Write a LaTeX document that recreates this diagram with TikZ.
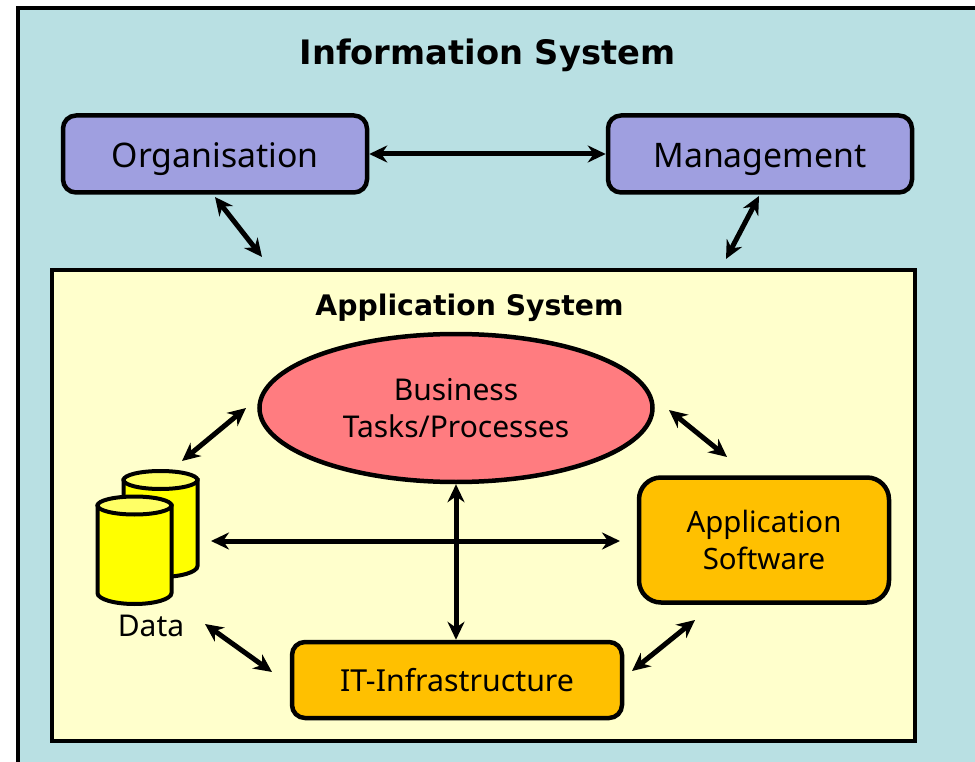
\documentclass[tikz,border=0pt]{standalone}
\usepackage{fontspec}
\setmainfont{Noto Sans}
\newfontfamily\boldf{DejaVu Sans}
\usetikzlibrary{arrows.meta,shapes.geometric}
\tikzset{
  x=1pt,y=-1pt,
  box/.style={draw=black,line width=4.5pt,rounded corners=13pt,inner sep=0pt,align=center},
  purple/.style={box,fill=boxpurple,minimum width=304pt,minimum height=77pt,text height=28pt,text depth=0pt,font=\fontsize{33.8}{40}\selectfont},
  orange/.style={box,fill=boxorange,font=\fontsize{30}{37}\selectfont},
  lnk/.style={line width=5pt,{Stealth[length=18pt,width=17pt]}-{Stealth[length=18pt,width=17pt]}},
  cyl/.style={draw=black,line width=4pt,fill=cylbody},
  cyltop/.style={draw=black,line width=4pt,fill=cyltopc},
  lbl/.style={font=\fontsize{30}{37}\selectfont,inner sep=0pt,align=center},
  title/.style={inner sep=0pt,anchor=base}
}
\definecolor{outerbg}{HTML}{B9E0E3}
\definecolor{innerbg}{HTML}{FFFFCC}
\definecolor{boxpurple}{HTML}{9F9FE0}
\definecolor{boxorange}{HTML}{FFC000}
\definecolor{ellred}{HTML}{FF7C80}
\definecolor{cylbody}{HTML}{FFFF00}
\definecolor{cyltopc}{HTML}{FFFF66}
\begin{document}
\begin{tikzpicture}
\useasboundingbox (0,0) rectangle (975,762);
\clip (0,0) rectangle (975,762);
\fill[white] (0,0) rectangle (975,762);
\draw[black,line width=4pt,fill=outerbg] (18,8) rectangle (985,775);
\node[title,font=\boldf\bfseries\fontsize{33.7}{40}\selectfont] (t1) at (487.5,65) {Information System};
\node[purple] (org) at (215,154) {Organisation};
\node[purple] (mgt) at (760,154) {Management};
\draw[black,line width=4pt,fill=innerbg] (52,270) rectangle (915,741);
\node[title,font=\boldf\bfseries\fontsize{28.3}{34}\selectfont] (t2) at (469.5,315) {Application System};
\node[ellipse,draw=black,line width=4.5pt,fill=ellred,minimum width=393pt,minimum height=148pt,inner sep=0pt,lbl] (biz) at (456,408) {Business\\Tasks/Processes};
\node[orange,font=\fontsize{29.4}{37}\selectfont,minimum width=250pt,minimum height=125pt,rounded corners=22pt] (app) at (764,540) {Application\\Software};
\node[orange,font=\fontsize{30.3}{37}\selectfont,minimum width=330pt,minimum height=76pt] (inf) at (457,680) {IT-Infrastructure};
% cylinders
\draw[cyl] (123.5,480) -- (123.5,566) arc[start angle=180,end angle=0,x radius=37,y radius=11] -- (197.5,480) -- cycle;
\draw[cyltop] (160.5,480) ellipse[x radius=37,y radius=9];
\draw[cyl] (97.5,505.5) -- (97.5,593) arc[start angle=180,end angle=0,x radius=37,y radius=11] -- (171.5,505.5) -- cycle;
\draw[cyltop] (134.5,505.5) ellipse[x radius=37,y radius=9];
\node[lbl] (data) at (151,626) {Data};
\coordinate (a1) at (215,197); \coordinate (a2) at (262,257);
\coordinate (b1) at (759,196); \coordinate (b2) at (726,259);
\coordinate (c1) at (246,408); \coordinate (c2) at (182,461);
\coordinate (d1) at (669,410); \coordinate (d2) at (727,457);
\coordinate (e1) at (211,541); \coordinate (e2) at (620,541);
\coordinate (f1) at (205,624); \coordinate (f2) at (272,672);
\coordinate (g1) at (695,620); \coordinate (g2) at (632,671);
\draw[lnk] (org.east) -- (mgt.west);
\draw[lnk] (a1) -- (a2);
\draw[lnk] (b1) -- (b2);
\draw[lnk] (c1) -- (c2);
\draw[lnk] (d1) -- (d2);
\draw[lnk] (e1) -- (e2);
\draw[lnk] (f1) -- (f2);
\draw[lnk] (g1) -- (g2);
\draw[lnk] (biz.south) -- (biz.south |- inf.north);
\end{tikzpicture}
\end{document}
